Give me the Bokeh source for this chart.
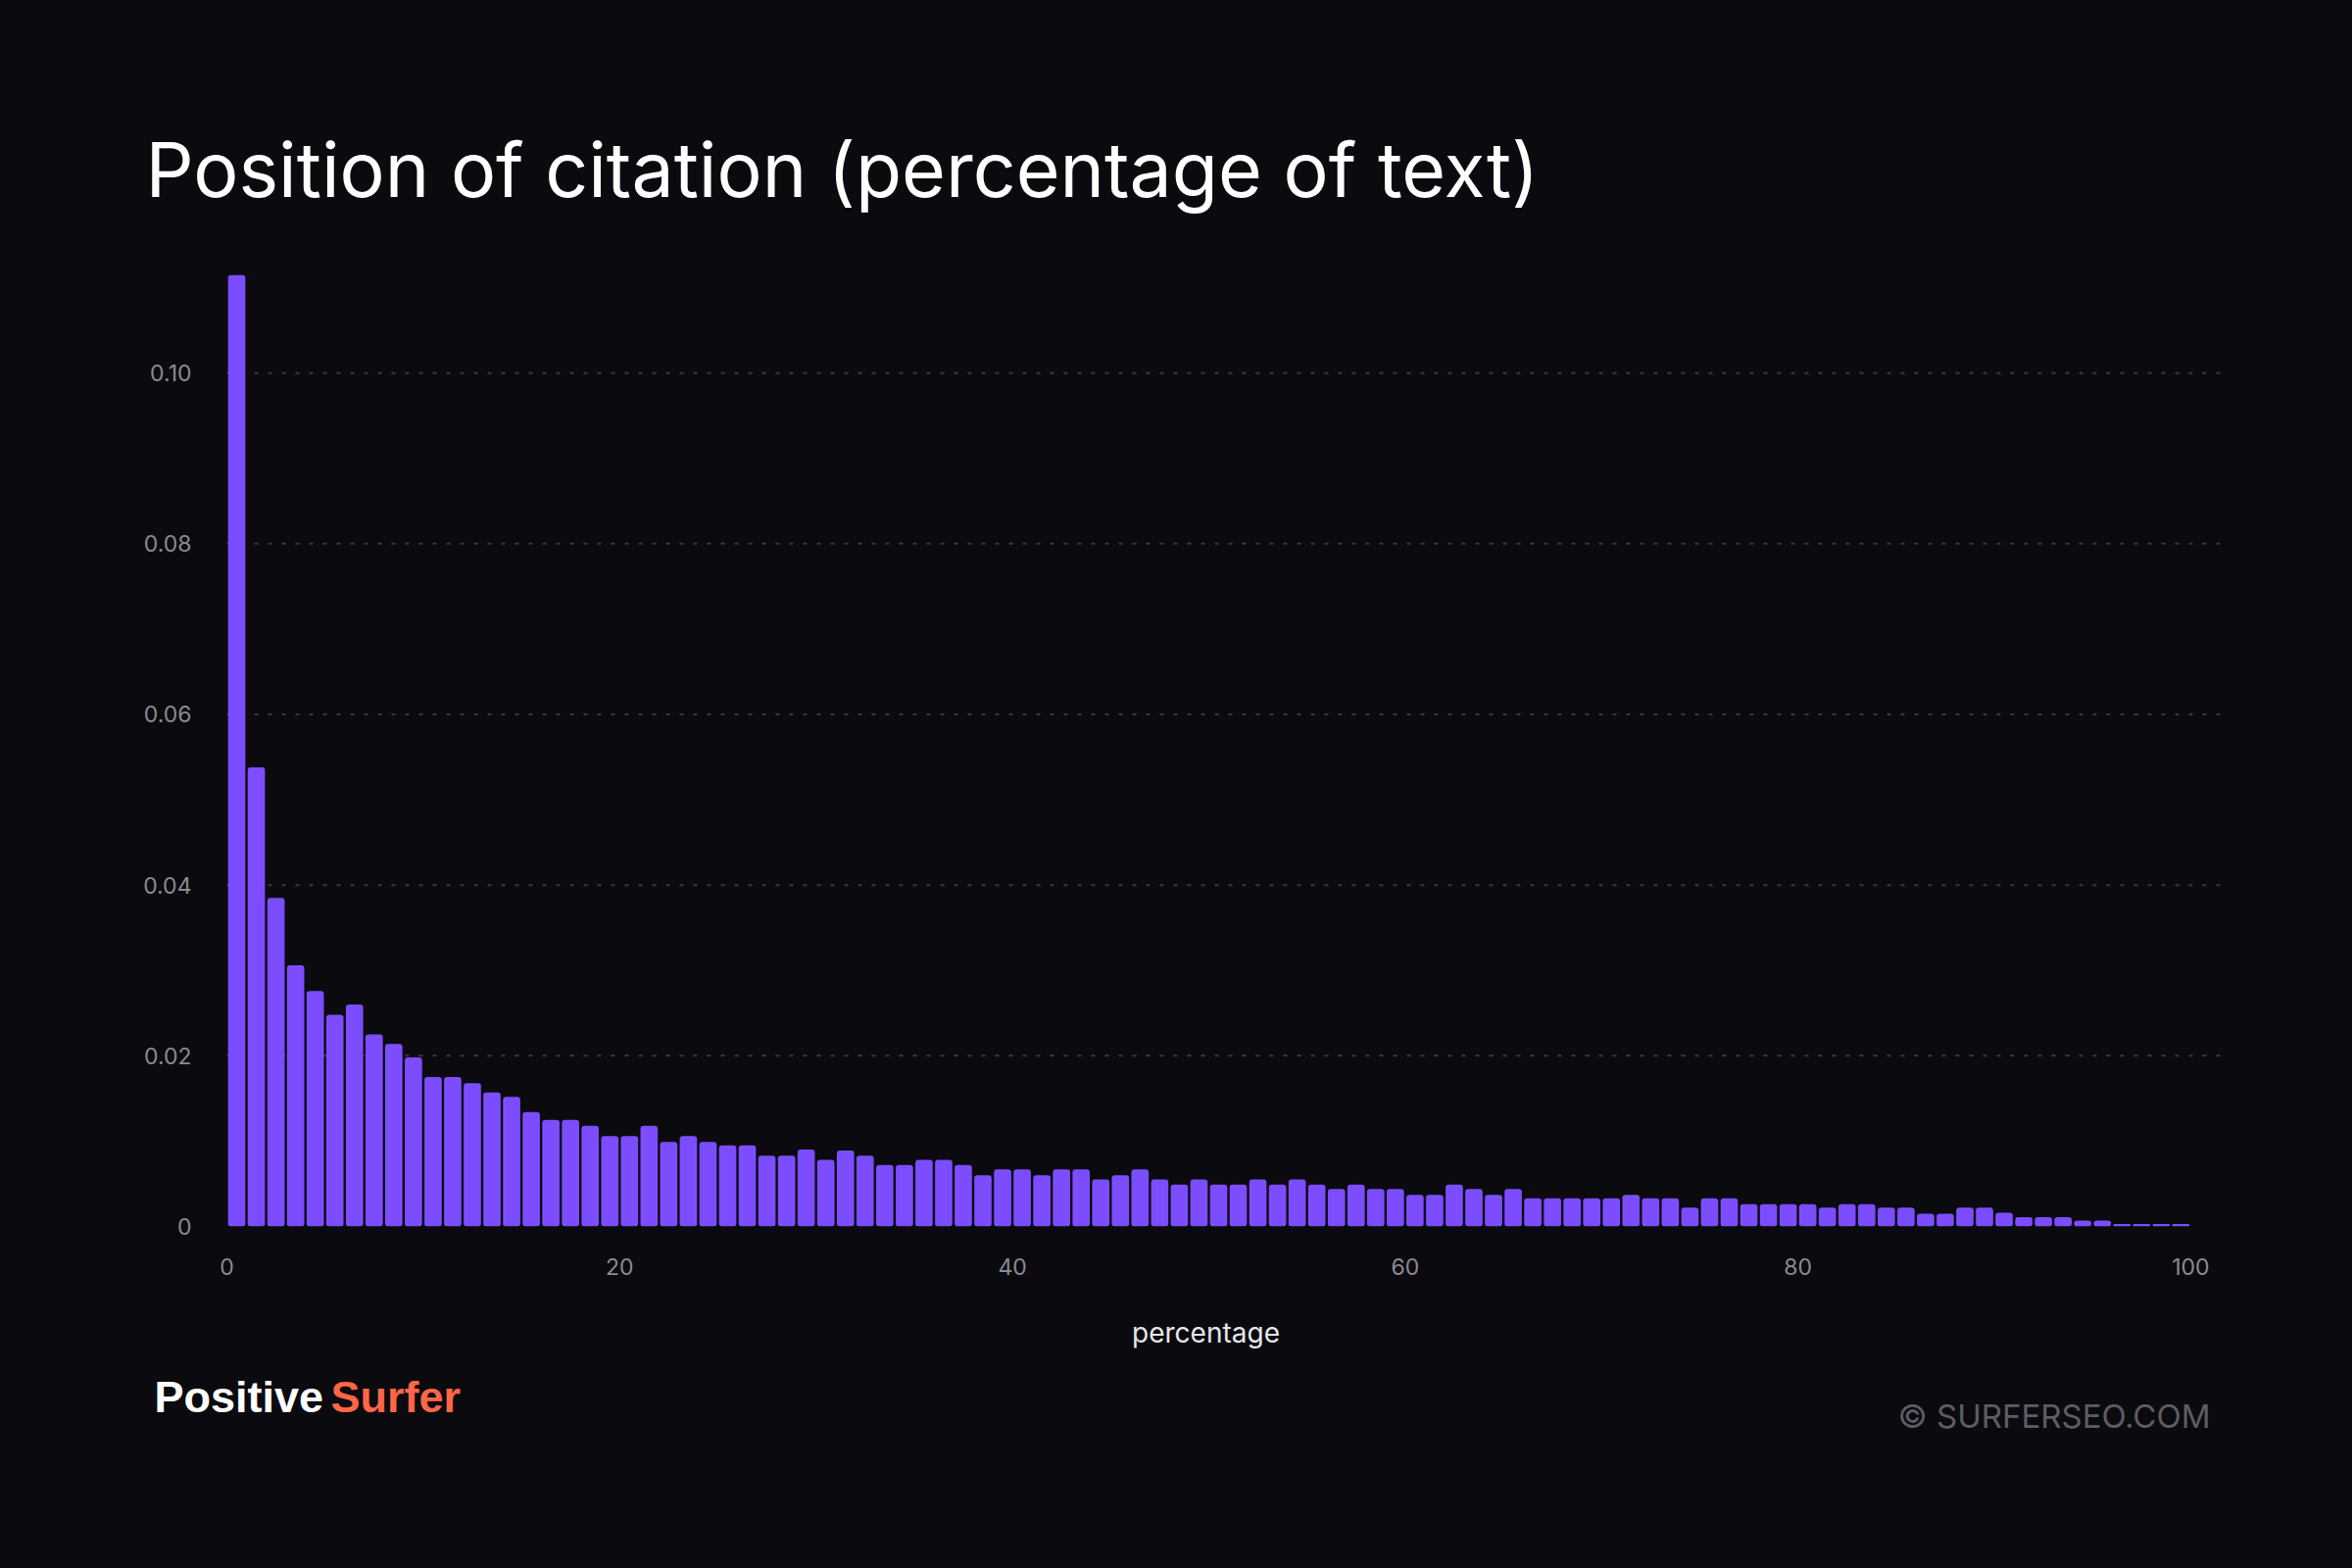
from bokeh.plotting import figure
from bokeh.layouts import column
from bokeh.models import Range1d, FixedTicker, Label, ColumnDataSource, GlobalInlineStyleSheet
from bokeh.embed import file_html
from bokeh.resources import INLINE

# ---- data ----
bin_start = list(range(100))
density = [
    0.1115, 0.0538, 0.0385, 0.0306, 0.0276, 0.0248, 0.0260, 0.0225, 0.0214, 0.0198,
    0.0175, 0.0175, 0.0168, 0.0157, 0.0152, 0.0134, 0.0125, 0.0125, 0.0118, 0.0106,
    0.0106, 0.0118, 0.0099, 0.0106, 0.0099, 0.0095, 0.0095, 0.0083, 0.0083, 0.0090,
    0.0078, 0.0089, 0.0083, 0.0072, 0.0072, 0.0078, 0.0078, 0.0072, 0.0060, 0.0067,
    0.0067, 0.0060, 0.0067, 0.0067, 0.0055, 0.0060, 0.0067, 0.0055, 0.0049, 0.0055,
    0.0049, 0.0049, 0.0055, 0.0049, 0.0055, 0.0049, 0.0044, 0.0049, 0.0044, 0.0044,
    0.0037, 0.0037, 0.0049, 0.0044, 0.0037, 0.0044, 0.0033, 0.0033, 0.0033, 0.0033,
    0.0033, 0.0037, 0.0033, 0.0033, 0.0022, 0.0033, 0.0033, 0.0026, 0.0026, 0.0026,
    0.0026, 0.0022, 0.0026, 0.0026, 0.0022, 0.0022, 0.0015, 0.0015, 0.0022, 0.0022,
    0.0016, 0.0011, 0.0011, 0.0011, 0.0007, 0.0007, 0.0003, 0.0003, 0.0003, 0.0003,
]
x_ticks = [0, 20, 40, 60, 80, 100]
y_ticks = [0, 0.02, 0.04, 0.06, 0.08, 0.10]
y_tick_labels = ["0", "0.02", "0.04", "0.06", "0.08", "0.10"]
grid_ticks = [0.02, 0.04, 0.06, 0.08, 0.10]

title_text = "Position of citation (percentage of text)"
x_title = "percentage"
brand_a = "Positive"
brand_b = "Surfer"
copyright_text = "\u00a9 SURFERSEO.COM"

BG = "#0b0a0f"
BAR = "#7c4dff"
TICK = "#8b8a91"
GRID = "#3a3940"

W = 2400
HEAD_H = 280
MAIN_H = 1050
FOOT_H = 270
FRAME_L, FRAME_R = 130, 128          # shared frame borders of the stacked panels
X0_PX, X_END = 231, 101.85           # pixel where x=0 sits, right end of x range
px_per_unit = (W - FRAME_R - X0_PX) / X_END
X_START = -(X0_PX - FRAME_L) / px_per_unit


def blank(y_top, y_bot):
    # header / footer panel; ranges chosen so that label positions read as page pixels
    f = figure(width=W, height=y_bot - y_top,
               x_range=Range1d(FRAME_L, W - FRAME_R), y_range=Range1d(y_bot, y_top),
               output_backend="svg", toolbar_location=None,
               x_axis_location=None, y_axis_location=None,
               min_border=0, min_border_left=FRAME_L, min_border_right=FRAME_R,
               background_fill_color=None, border_fill_color=None)
    f.outline_line_color = None
    f.grid.visible = False
    return f


# ---- header ----
head = blank(0, HEAD_H)
head.add_layout(Label(x=148, y=172, text=title_text,
                      text_font="Inter", text_font_size="77px", text_color="#ffffff",
                      text_baseline="middle", text_align="left"))

# ---- main chart ----
src = ColumnDataSource(dict(x=[b + 0.5 for b in bin_start], top=density))

p = figure(
    width=W, height=MAIN_H,
    x_range=Range1d(X_START, X_END), y_range=Range1d(0, 0.1115),
    output_backend="svg", toolbar_location=None,
    min_border_left=FRAME_L, min_border_right=FRAME_R,
    min_border_top=0, min_border_bottom=79,
    background_fill_color=None, border_fill_color=None,
)
p.outline_line_color = None
p.grid.visible = False

# dotted horizontal grid lines across the data extent
p.segment(x0=0, x1=X_END, y0=grid_ticks, y1=grid_ticks,
          line_color=GRID, line_width=2, line_dash="4 10")

p.vbar(x="x", top="top", bottom=0, width=0.88, source=src,
       fill_color=BAR, line_color=None, border_radius=3)

for ax in (p.xaxis[0], p.yaxis[0]):
    ax.axis_line_color = None
    ax.major_tick_line_color = None
    ax.minor_tick_line_color = None
    ax.major_tick_out = 0
    ax.major_tick_in = 0
    ax.minor_tick_out = 0
    ax.major_label_text_font = "Inter"
    ax.major_label_text_font_size = "23px"
    ax.major_label_text_color = TICK

p.xaxis.ticker = FixedTicker(ticks=x_ticks)
p.xaxis.major_label_standoff = 32
p.yaxis.ticker = FixedTicker(ticks=y_ticks)
p.yaxis.major_label_overrides = {t: s for t, s in zip(y_ticks, y_tick_labels)}
p.yaxis.major_label_standoff = FRAME_L - 195   # labels right-aligned at x=195

# ---- footer ----
foot_top = HEAD_H + MAIN_H
foot = blank(foot_top, foot_top + FOOT_H)
foot.add_layout(Label(x=1230, y=1359, text=x_title,
                      text_font="Inter", text_font_size="28px", text_color="#e6e6e8",
                      text_baseline="middle", text_align="center"))
foot.add_layout(Label(x=157, y=1425, text=brand_a,
                      text_font="Liberation Sans", text_font_style="bold",
                      text_font_size="45px", text_color="#ffffff",
                      text_baseline="middle", text_align="left"))
foot.add_layout(Label(x=337, y=1425, text=brand_b,
                      text_font="Liberation Sans", text_font_style="bold",
                      text_font_size="45px", text_color="#ff6647",
                      text_baseline="middle", text_align="left"))
foot.add_layout(Label(x=2255, y=1444, text=copyright_text,
                      text_font="Inter", text_font_size="33px", text_color="#5e5c64",
                      text_baseline="middle", text_align="right"))

page = column(head, p, foot, spacing=0,
              stylesheets=[GlobalInlineStyleSheet(css="body{background:%s;}" % BG)])

open("out.html", "w").write(file_html(page, INLINE))
